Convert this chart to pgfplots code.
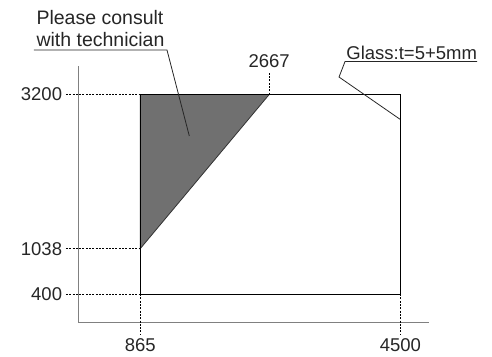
\documentclass[border=0pt]{standalone}
\usepackage{fontspec}
\setmainfont{Liberation Sans}
\usepackage{pgfplots}
\pgfplotsset{compat=1.18}
\tikzset{lbl/.style={font=\fontsize{18.5bp}{22bp}\selectfont, inner sep=0pt, text=black!85},
         lblb/.style={font=\fontsize{19.5bp}{22bp}\selectfont, inner sep=0pt, text=black!85}}
\begin{document}
\begin{tikzpicture}
\path[use as bounding box] (-78.3bp,-34.3bp) rectangle (413.7bp,322.7bp);
\begin{axis}[
  scale only axis, width=350.7bp, height=256.7bp,
  xmin=0, xmax=4900, ymin=0, ymax=3600,
  axis lines=left,
  axis line style={-, draw=gray, line width=1.3bp},
  xtick=\empty, ytick=\empty,
  clip=false,
]
% grey zone
\addplot[fill=black!56, draw=black!80, line width=0.8bp] coordinates {(865,1038) (865,3200) (2667,3200)} -- cycle;
% glass rectangle
\addplot[black, line width=0.9bp] coordinates {(865,400) (4500,400) (4500,3200) (865,3200)} -- cycle;
% dashed guide lines
\addplot[black, line width=0.7bp, dash pattern=on 2bp off 1.3bp] coordinates {(-172,3200) (865,3200)};
\addplot[black, line width=0.7bp, dash pattern=on 2bp off 1.3bp] coordinates {(-172,1038) (865,1038)};
\addplot[black, line width=0.7bp, dash pattern=on 2bp off 1.3bp] coordinates {(-172,400) (865,400)};
\addplot[black, line width=0.7bp, dash pattern=on 2bp off 1.3bp] coordinates {(865,400) (865,-173)};
\addplot[black, line width=0.7bp, dash pattern=on 2bp off 1.3bp] coordinates {(4500,400) (4500,-173)};
\addplot[black, line width=0.7bp, dash pattern=on 2bp off 1.3bp] coordinates {(2667,3200) (2667,3507)};
% labels
\node[lbl, anchor=east] at (axis cs:-224,3200) {3200};
\node[lbl, anchor=east] at (axis cs:-224,1038) {1038};
\node[lbl, anchor=east] at (axis cs:-224,400) {400};
\node[lbl, anchor=base] at (axis cs:865,-406) {865};
\node[lbl, anchor=base] at (axis cs:4500,-406) {4500};
\node[lbl, anchor=base] at (axis cs:2667,3577) {2667};
% callouts
\node[lblb, anchor=base] at (axis cs:303,4175) {Please consult};
\node[lblb, anchor=base] at (axis cs:310,3871) {with technician};
\addplot[black!85, line width=0.8bp] coordinates {(-619,3825) (1239,3825) (1551,2619)};
\node[lbl, anchor=base] at (axis cs:4658,3694) {Glass:t=5+5mm};
\addplot[black!85, line width=0.8bp] coordinates {(5571,3663) (3727,3663) (3643,3445) (4495,2853)};
\end{axis}
\end{tikzpicture}
\end{document}
